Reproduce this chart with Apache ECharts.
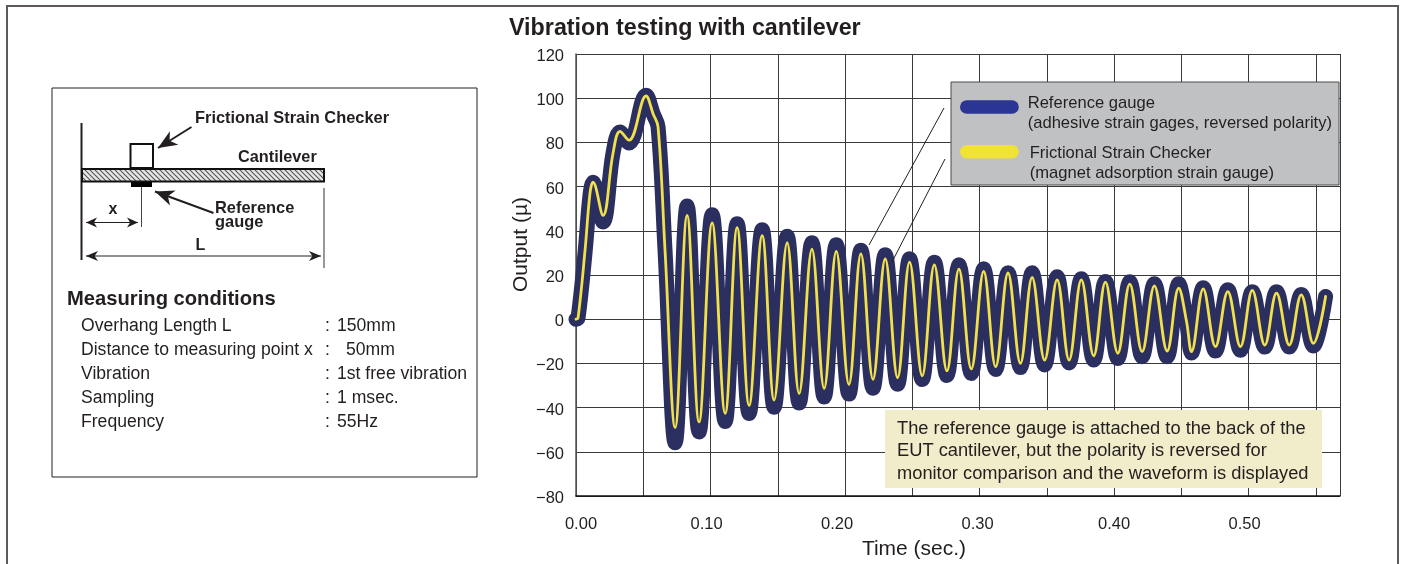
<!DOCTYPE html>
<html><head><meta charset="utf-8">
<style>html,body{margin:0;padding:0;background:#fff}#c{width:1404px;height:564px}</style>
<script src="https://cdn.jsdelivr.net/npm/echarts@6/dist/echarts.min.js"></script>
</head><body><div id="c"></div>
<script>
const timeSec = [0,.0015,.0067,.0104,.0126,.0201,.0275,.0327,.0394,.0521,.0573,.061,.0662,.0737,
 .0826,.0915,.1012,.1109,.1198,.1287,.1384,.1473,.157,.1659,.1754,.1845,.1935,.2029,.2118,.2208,
 .2299,.2391,.248,.2574,.2664,.2758,.2847,.2939,.3031,.312,.3212,.3304,.3391,.3484,.3577,.3666,
 .3757,.3849,.3936,.4028,.4117,.4209,.43,.4395,.4481,.4539,.4576,.4663,.4754,.4846,.494,.5028,
 .5121,.5208,.5303,.5392,.5482,.5573];
const referenceGauge = [0,.5,30,56,62,44,75,84.7,79.7,101.3,93,87,31,-55.9,
 51.2,-51,47.3,-46.3,43.2,-42.7,40.5,-39.8,37.5,-37.9,34.6,-35.2,33.7,-33.9,31.2,-31.2,
 29.2,-29.4,27.4,-27.3,25.8,-25.5,24.6,-24.6,22.8,-22.8,21,-21.9,21,-20.7,19.2,-19.8,
 18.3,-18.5,17.1,-17.8,16.9,-17,16,-17,16,-1,-15.3,14.2,-14.4,13.3,-14,12.4,
 -12.6,12.4,-12.6,11.2,-12.1,10.3];
const frictionalChecker = [0,.5,31,57,62,47,75,85,81,101,93,87,31,-49,
 47,-46.5,43.6,-42.6,41.4,-39,37.8,-36.6,34.6,-33.6,31.7,-31.3,30.7,-29.5,29.6,-27.2,
 27.3,-26.5,25.8,-25.6,24.6,-23.4,22.7,-22.5,21.6,-21.5,20.9,-20,18.9,-18.5,17.8,-18.5,
 17.8,-16.6,16.8,-15.4,15.9,-14.7,15.1,-14.4,14,-1,-14.7,13.7,-12.4,12.5,-12.4,13,
 -11.7,11.8,-11.7,11,-10.9,10.3];
const xLabelShift = {'0.00':'a','0.10':'b','0.20':'c','0.30':'d','0.40':'e','0.50':'b'};
const refLines = ['Reference gauge','(adhesive strain gages, reversed polarity)'];
const fscLines = ['Frictional Strain Checker','(magnet adsorption strain gauge)'];
const refName = refLines.join('\n');
const fscName = fscLines.join('\n');
const conditionNames = ['Overhang Length L','Distance to measuring point x','Vibration','Sampling','Frequency'];
const conditionValues = ['150mm','50mm','1st free vibration','1 msec.','55Hz'];
const noteLines = ['The reference gauge is attached to the back of the','EUT cantilever, but the polarity is reversed for','monitor comparison and the waveform is displayed'];

const FONT = '"Liberation Sans",Arial,sans-serif';
const INK = '#231f20';
const chart = echarts.init(document.getElementById('c'), null, {renderer:'canvas'});

const tile = document.createElement('canvas'); tile.width = 5; tile.height = 5;
const tc = tile.getContext('2d');
tc.fillStyle = '#e6e6e6'; tc.fillRect(0,0,5,5);
tc.strokeStyle = '#555'; tc.lineWidth = 1.1;
tc.beginPath(); tc.moveTo(-1,-1); tc.lineTo(6,6); tc.moveTo(-1,4); tc.lineTo(1,6); tc.moveTo(4,-1); tc.lineTo(6,1); tc.stroke();

function text(x,y,t,size,bold,extra){
  return Object.assign({type:'text',x,y,z:50,style:{text:t,fill:INK,font:(bold?'bold ':'')+size+'px '+FONT,textVerticalAlign:'middle',textBaseline:'middle'}},extra||{});
}
function line(x1,y1,x2,y2,w,c){return {type:'line',z:50,shape:{x1,y1,x2,y2},style:{stroke:c||INK,lineWidth:w}};}
function head(x,y,fromX,fromY,len,wid){
  const a=Math.atan2(y-fromY,x-fromX),c=Math.cos(a),s=Math.sin(a);
  return {type:'polygon',z:50,shape:{points:[[x,y],[x-len*c+wid*s,y-len*s-wid*c],[x-len*.72*c,y-len*.72*s],[x-len*c-wid*s,y-len*s+wid*c]]},style:{fill:INK}};
}
function arrow(x1,y1,x2,y2,w,len,wid){return [line(x1,y1,x2,y2,w),head(x2,y2,x1,y1,len,wid)];}

const graphics = [
  {type:'polyline',z:1,shape:{points:[[7,564],[7,6],[1398,6],[1398,564]]},style:{stroke:'#5f5a58',lineWidth:2,fill:null}},
  {type:'rect',z:1,shape:{x:52,y:88,width:425,height:389},style:{fill:'#fff',stroke:'#231f20',lineWidth:1}},
  line(81.5,123,81.5,260,2),
  {type:'rect',z:50,shape:{x:82,y:169,width:242,height:12.5},style:{fill:{image:tile,repeat:'repeat'},stroke:'#111',lineWidth:2}},
  {type:'rect',z:50,shape:{x:130.5,y:144,width:22.5,height:24},style:{fill:'#fff',stroke:'#111',lineWidth:2}},
  {type:'rect',z:50,shape:{x:131,y:182,width:21,height:5},style:{fill:'#000'}},
  line(141.5,187,141.5,227,1,'#444'),
  line(324,188,324,268,1,'#333'),
  line(86,222.5,138,222.5,1.2),head(86,222.5,138,222.5,11,5),head(138,222.5,86,222.5,11,5),
  line(86,256,321,256,1.2),head(86,256,321,256,12,5),head(321,256,86,256,12,5),
  ...arrow(191.5,127,158,148,2,19,8),
  ...arrow(213.5,213,155,191.5,2,19,8),
  text(195,118.5,'Frictional Strain Checker',16.4,true),
  text(238,158,'Cantilever',16.3,true),
  text(215,208,'Reference',16.4,true),
  text(215,222,'gauge',16.4,true),
  text(108.5,210,'x',16,true),
  text(195.5,246,'L',16,true),
  text(67,299,'Measuring conditions',20.2,true),
  ...conditionNames.map((t,i)=>text(81,326+24*i,t,17.6)),
  ...conditionValues.map((t,i)=>text(325,326+24*i,':',17.6)),
  ...conditionValues.map((t,i)=>text(i===1?346:337,326+24*i,t,17.6)),
  line(944,108,869,245,1),
  line(945,159,892,262,1),
  {type:'rect',z:10,shape:{x:951,y:82,width:388,height:103},style:{fill:'#c0c1c3',stroke:'#4a4a4a',lineWidth:1}},
  {type:'rect',z:60,shape:{x:885,y:410,width:437,height:78},style:{fill:'#f1ecc9'}},
  ...noteLines.map((t,i)=>text(897,428.5+22.6*i,t,18.3,false,{z:61}))
];

const lab = {fontSize:16.5,color:INK,fontFamily:FONT};
const rich = {
  a:{...lab,padding:[0,0,0,10]},
  b:{...lab,padding:[0,8,0,0]},
  c:{...lab,padding:[0,16,0,0]},
  d:{...lab,padding:[0,4,0,0]},
  e:{...lab}
};
const legendText = {fontFamily:FONT,fontSize:16.6,color:INK,lineHeight:20.5};
const gridLine = {show:true,lineStyle:{color:'#3a3a3a',width:1,type:'solid'}};
const pill = 'path://M7 0H54a7 7 0 0 1 0 14H7a7 7 0 0 1 0-14z';
chart.setOption({
  animation:false,
  backgroundColor:'#fff',
  title:{text:'Vibration testing with cantilever',left:509,top:17,padding:0,textStyle:{fontFamily:FONT,fontWeight:'bold',fontSize:23.3,color:INK}},
  grid:{left:576,right:64,top:54,bottom:68,show:false,containLabel:false,outerBoundsMode:'none'},
  legend:{
    show:true,left:951,top:78,orient:'vertical',align:'left',
    padding:[0,6,2,9],itemGap:-14.5,itemWidth:60.5,itemHeight:13.5,
    z:20,
    selectedMode:false,
    formatter:n=>n===refName
      ? '{g1| }\n{t|'+refLines[0]+'}\n{t|'+refLines[1]+'}'
      : '{g2| }\n{u|'+fscLines[0]+'}\n{u|'+fscLines[1]+'}',
    textStyle:{...legendText,rich:{
      g1:{...legendText,lineHeight:13,height:13},
      g2:{...legendText,lineHeight:23.5,height:23.5},
      t:{...legendText,padding:[0,0,0,3]},
      u:{...legendText,padding:[0,0,0,5]}
    }},
    data:[
      {name:refName,icon:pill,itemStyle:{color:'#2b3593',borderWidth:0}},
      {name:fscName,icon:pill,itemStyle:{color:'#f0e236',borderWidth:0}}
    ]
  },
  xAxis:{
    type:'value',min:0,max:0.568,interval:0.05,
    name:'Time (sec.)',nameLocation:'middle',nameGap:43,nameMoveOverlap:false,
    nameTextStyle:{fontFamily:FONT,fontSize:21,color:INK,padding:[0,88,0,0]},
    axisLine:{show:true,onZero:false,lineStyle:{color:'#111',width:1.5}},
    axisTick:{show:false},
    splitLine:gridLine,
    axisLabel:{show:true,margin:20,showMaxLabel:false,hideOverlap:false,rich,
      formatter:v=>{const k=v.toFixed(2);return xLabelShift[k]?'{'+xLabelShift[k]+'|'+k+'}':'';}}
  },
  yAxis:{
    type:'value',min:-80,max:120,interval:20,
    name:'Output (µ)',nameLocation:'middle',nameGap:44,nameMoveOverlap:false,
    nameTextStyle:{fontFamily:FONT,fontSize:21,color:INK,padding:[0,0,0,61]},
    axisLine:{show:true,onZero:false,lineStyle:{color:'#555',width:1.5}},
    axisTick:{show:false},
    splitLine:gridLine,
    axisLabel:{show:true,margin:12,rich:{v:{...lab,padding:[5,0,0,0]}},
      formatter:v=>'{v|'+String(v).replace('-','\u2212')+'}'}
  },
  series:[
    {name:refName,type:'line',z:3,clip:false,showSymbol:false,smooth:0.38,
      data:timeSec.map((t,i)=>[t,referenceGauge[i]]),
      lineStyle:{color:'#2b2f5f',width:15,cap:'round',join:'round'},itemStyle:{color:'#2b2f5f'}},
    {name:fscName,type:'line',z:4,clip:false,showSymbol:false,smooth:0.38,
      data:timeSec.map((t,i)=>[t,frictionalChecker[i]]),
      lineStyle:{color:'#f0e04c',width:2.8,cap:'round',join:'round'},itemStyle:{color:'#f0e04c'}}
  ],
  graphic:{elements:graphics}
});
</script></body></html>
